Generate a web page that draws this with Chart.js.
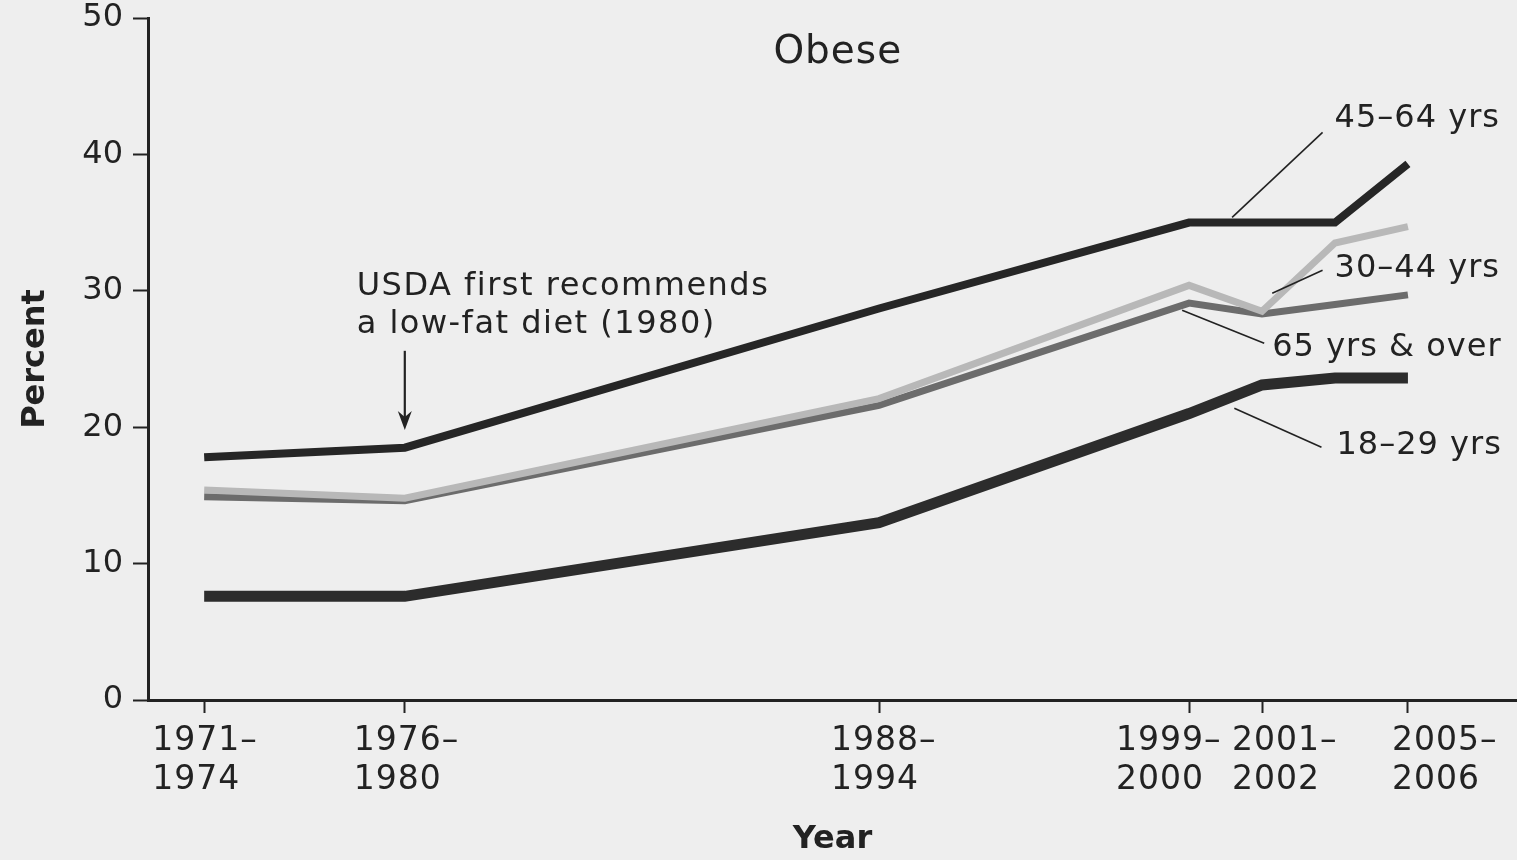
<!DOCTYPE html>
<html>
<head>
<meta charset="utf-8">
<title>Obese</title>
<script src="https://cdn.jsdelivr.net/npm/chart.js@4.4.1/dist/chart.umd.min.js"></script>
<style>
  html, body { margin: 0; padding: 0; background: #eeeeee; }
  #wrap { width: 1517px; height: 860px; position: relative; }
</style>
</head>
<body>
<div id="wrap"><canvas id="obeseChart"></canvas></div>
<script>
// midpoint year of each survey period
const surveyYears = [1972.5, 1978, 1991, 1999.5, 2001.5, 2003.5, 2005.5];
// labelled ticks (2003-2004 has data but no label)
const tickYears = [1972.5, 1978, 1991, 1999.5, 2001.5, 2005.5];
const tickLabels = [
  ['1971–', '1974'], ['1976–', '1980'], ['1988–', '1994'],
  ['1999–', '2000'], ['2001–', '2002'], ['2005–', '2006']
];

// percent obese, by age group
const ages18to29 = [7.6, 7.6, 13.0, 21.0, 23.1, 23.6, 23.6];
const ages30to44 = [15.4, 14.8, 22.1, 30.4, 28.5, 33.5, 34.7];
const ages45to64 = [17.8, 18.5, 28.7, 35.0, 35.0, 35.0, 39.3];
const ages65plus = [14.9, 14.6, 21.6, 29.1, 28.3, 29.0, 29.7];

const FONT = '"DejaVu Sans", sans-serif';
const INK = '#222222';

function toPoints(values) {
  return values.map((v, i) => ({ x: surveyYears[i], y: v }));
}

// text and leader lines, placed in data units
const notes = [
  { text: 'Obese', x: 1989.87, y: 47.47, align: 'center', size: 39, spacing: 1 },
  { text: 'USDA first recommends', x: 1976.68, y: 30.33, align: 'left', size: 32, spacing: 1.5 },
  { text: 'a low-fat diet (1980)', x: 1976.68, y: 27.55, align: 'left', size: 32, spacing: 1.5 },
  { text: '45–64 yrs', x: 2003.49, y: 42.64, align: 'left', size: 32, spacing: 1 },
  { text: '30–44 yrs', x: 2003.49, y: 31.65, align: 'left', size: 32, spacing: 1 },
  { text: '65 yrs & over', x: 2001.78, y: 25.86, align: 'left', size: 32, spacing: 1 },
  { text: '18–29 yrs', x: 2003.54, y: 18.68, align: 'left', size: 32, spacing: 1 }
];
const leaders = [
  [2000.68, 35.38, 2003.16, 41.61],
  [2001.78, 29.82, 2003.16, 31.50],
  [1999.31, 28.57, 2001.56, 26.15],
  [2000.74, 21.39, 2003.13, 18.53]
];
const arrow = { x: 1978, top: 25.6, bottom: 19.8 };
// left edge of each x label, relative to its tick (labels are left-aligned)
const labelShift = [-52, -51, -48, -73, -30, -16];

const notesPlugin = {
  id: 'notes',
  afterDraw(chart) {
    const { ctx } = chart;
    const xs = chart.scales.x, ys = chart.scales.y;
    ctx.save();
    ctx.fillStyle = INK;
    ctx.strokeStyle = INK;
    ctx.textBaseline = 'middle';

    // x tick labels
    ctx.font = '33px ' + FONT;
    ctx.letterSpacing = '1px';
    ctx.textAlign = 'left';
    tickYears.forEach((yr, i) => {
      const px = xs.getPixelForValue(yr) + labelShift[i];
      ctx.fillText(tickLabels[i][0], px, xs.top + 41);
      ctx.fillText(tickLabels[i][1], px, xs.top + 80);
    });

    notes.forEach(n => {
      ctx.font = n.size + 'px ' + FONT;
      ctx.letterSpacing = n.spacing + 'px';
      ctx.textAlign = n.align;
      ctx.fillText(n.text, xs.getPixelForValue(n.x), ys.getPixelForValue(n.y));
    });
    ctx.letterSpacing = '0px';

    ctx.lineWidth = 1.6;
    leaders.forEach(l => {
      ctx.beginPath();
      ctx.moveTo(xs.getPixelForValue(l[0]), ys.getPixelForValue(l[1]));
      ctx.lineTo(xs.getPixelForValue(l[2]), ys.getPixelForValue(l[3]));
      ctx.stroke();
    });

    // arrow pointing at 1980
    const ax = xs.getPixelForValue(arrow.x);
    const aTop = ys.getPixelForValue(arrow.top);
    const aBot = ys.getPixelForValue(arrow.bottom);
    ctx.lineWidth = 2.2;
    ctx.beginPath();
    ctx.moveTo(ax, aTop);
    ctx.lineTo(ax, aBot - 10);
    ctx.stroke();
    ctx.beginPath();
    ctx.moveTo(ax - 7, aBot - 19);
    ctx.lineTo(ax, aBot);
    ctx.lineTo(ax + 7, aBot - 19);
    ctx.lineTo(ax, aBot - 13);
    ctx.closePath();
    ctx.fill();
    ctx.restore();
  }
};

new Chart(document.getElementById('obeseChart'), {
  type: 'line',
  data: {
    datasets: [
      { label: '45–64 yrs', data: toPoints(ages45to64), borderColor: '#262626', borderWidth: 8, order: 0 },
      { label: '18–29 yrs', data: toPoints(ages18to29), borderColor: '#2c2c2c', borderWidth: 11, order: 0 },
      { label: '30–44 yrs', data: toPoints(ages30to44), borderColor: '#b8b8b8', borderWidth: 7, order: 1 },
      { label: '65 yrs & over', data: toPoints(ages65plus), borderColor: '#6c6c6c', borderWidth: 7, order: 2 }
    ]
  },
  options: {
    responsive: true,
    maintainAspectRatio: false,
    animation: false,
    layout: { padding: { top: 18, right: 0, bottom: 0, left: 0 } },
    elements: {
      point: { radius: 0, hoverRadius: 0 },
      line: { tension: 0, fill: false, borderJoinStyle: 'miter', borderCapStyle: 'butt' }
    },
    plugins: { legend: { display: false }, tooltip: { enabled: false } },
    scales: {
      x: {
        type: 'linear',
        min: 1970.96,
        max: 2008.49,
        afterBuildTicks: s => { s.ticks = tickYears.map(v => ({ value: v })); },
        afterFit: s => { s.height = 160; s.paddingLeft = 0; s.paddingRight = 0; },
        ticks: { display: false },
        grid: { drawOnChartArea: false, drawTicks: true, tickLength: 13, tickWidth: 2, tickColor: INK },
        border: { color: INK, width: 3 },
        title: {
          display: true, text: 'Year', color: INK,
          font: { family: FONT, size: 32, weight: 'bold' },
          padding: { top: 0, bottom: 1 }
        }
      },
      y: {
        min: 0,
        max: 50,
        afterFit: s => { s.width = 148; s.paddingTop = 0; s.paddingBottom = 0; },
        ticks: {
          stepSize: 10,
          padding: 10,
          color: INK,
          font: { family: FONT, size: 32 }
        },
        grid: { drawOnChartArea: false, drawTicks: true, tickLength: 15, tickWidth: 2, tickColor: INK },
        border: { color: INK, width: 3 },
        title: {
          display: true, text: 'Percent', color: INK,
          font: { family: FONT, size: 32, weight: 'bold' },
          padding: { top: 16, bottom: 0 }
        }
      }
    }
  },
  plugins: [notesPlugin]
});
</script>
</body>
</html>
